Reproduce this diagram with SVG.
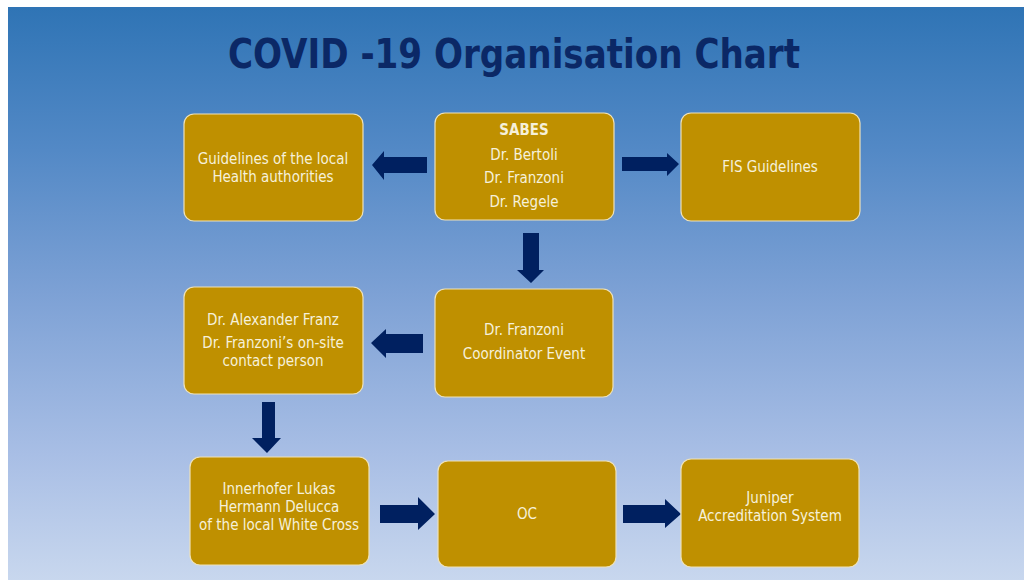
<svg xmlns="http://www.w3.org/2000/svg" width="1024" height="580" viewBox="0 0 1024 580">
<defs>
<linearGradient id="bg" x1="0" y1="0" x2="0" y2="1">
<stop offset="0" stop-color="#2F74B5"/>
<stop offset="0.25" stop-color="#5389C6"/>
<stop offset="0.5" stop-color="#7DA1D5"/>
<stop offset="0.78" stop-color="#A8BEE5"/>
<stop offset="1" stop-color="#C8D7EE"/>
</linearGradient>
<style>
.box{fill:#BF9000;stroke:#EFE2B8;stroke-width:1.2}
.t{font-family:"DejaVu Sans Condensed","DejaVu Sans","Liberation Sans",sans-serif;font-stretch:condensed;font-size:15px;fill:#F6F0DA;text-anchor:middle}
.b{font-weight:bold}
.arr{fill:#002060}
.title{font-family:"DejaVu Sans Condensed","DejaVu Sans","Liberation Sans",sans-serif;font-stretch:condensed;font-weight:bold;font-size:41px;fill:#0B2866;text-anchor:middle}
</style>
</defs>
<rect x="0" y="0" width="1024" height="580" fill="#FFFFFF"/>
<rect x="8" y="7" width="1016" height="573" fill="url(#bg)"/>
<text class="title" x="514" y="68" textLength="572" lengthAdjust="spacingAndGlyphs">COVID -19 Organisation Chart</text>

<g id="connectors">
<polygon class="arr" points="427,157 384,157 384,151 372,165 384,180 384,173 427,173"/>
<polygon class="arr" points="622,157 667,157 667,153 679,164 667,176 667,171 622,171"/>
<polygon class="arr" points="523,233 539,233 539,270 544,270 531,283 517,270 523,270"/>
<polygon class="arr" points="423,334 386,334 386,329 371,343 386,358 386,353 423,353"/>
<polygon class="arr" points="262,402 275,402 275,438 281,438 267,453 252,438 262,438"/>
<polygon class="arr" points="380,505 418,505 418,497 435,514 418,530 418,523 380,523"/>
<polygon class="arr" points="623,505 665,505 665,499 681,514 665,528 665,523 623,523"/>
</g>

<g id="guidelines">
<rect class="box" x="184" y="114" width="179" height="107" rx="10"/>
<text class="t" x="273" y="164">Guidelines of the local</text>
<text class="t" x="273" y="182">Health authorities</text>
</g>
<g id="sabes">
<rect class="box" x="435" y="113" width="179" height="107" rx="10"/>
<text class="t b" x="524" y="135">SABES</text>
<text class="t" x="524" y="160">Dr. Bertoli</text>
<text class="t" x="524" y="183">Dr. Franzoni</text>
<text class="t" x="524" y="207">Dr. Regele</text>
</g>
<g id="fis">
<rect class="box" x="681" y="113" width="179" height="108" rx="10"/>
<text class="t" x="770" y="172">FIS Guidelines</text>
</g>
<g id="franz">
<rect class="box" x="184" y="287" width="179" height="107" rx="10"/>
<text class="t" x="273" y="325">Dr. Alexander Franz</text>
<text class="t" x="273" y="348">Dr. Franzoni’s on-site</text>
<text class="t" x="273" y="366">contact person</text>
</g>
<g id="coordinator">
<rect class="box" x="435" y="289" width="178" height="108" rx="10"/>
<text class="t" x="524" y="335">Dr. Franzoni</text>
<text class="t" x="524" y="359">Coordinator Event</text>
</g>
<g id="innerhofer">
<rect class="box" x="190" y="457" width="179" height="108" rx="10"/>
<text class="t" x="279" y="494">Innerhofer Lukas</text>
<text class="t" x="279" y="512">Hermann Delucca</text>
<text class="t" x="279" y="530">of the local White Cross</text>
</g>
<g id="oc">
<rect class="box" x="438" y="461" width="178" height="106" rx="10"/>
<text class="t" x="527" y="519">OC</text>
</g>
<g id="juniper">
<rect class="box" x="681" y="459" width="178" height="108" rx="10"/>
<text class="t" x="770" y="503">Juniper</text>
<text class="t" x="770" y="521">Accreditation System</text>
</g>
</svg>
